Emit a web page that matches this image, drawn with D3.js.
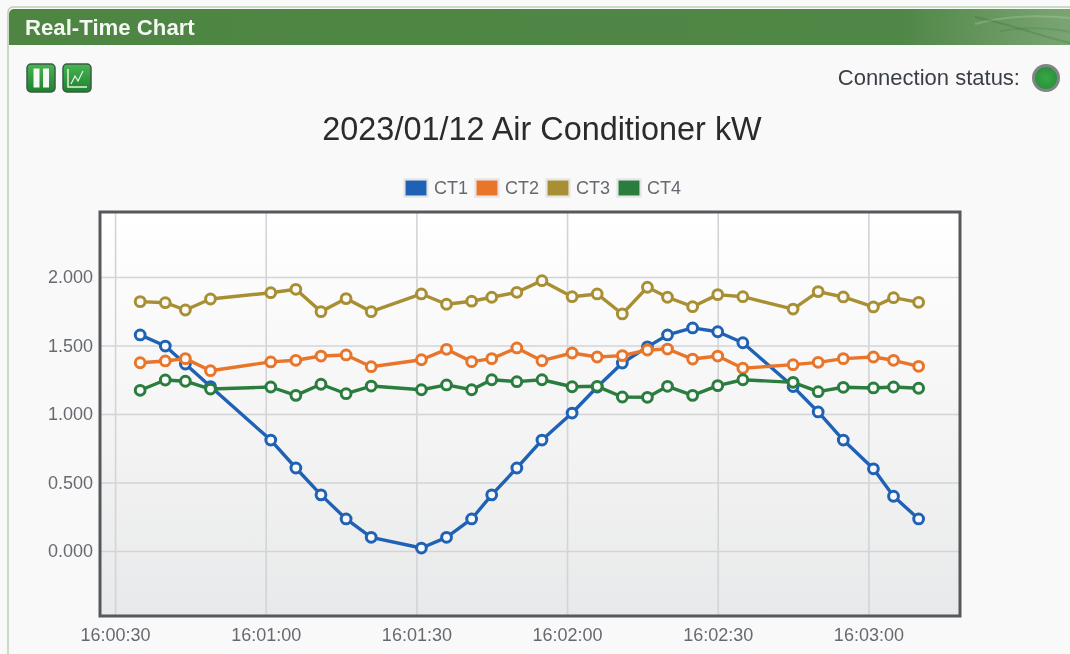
<!DOCTYPE html>
<html><head><meta charset="utf-8">
<script src="https://cdn.jsdelivr.net/npm/d3@7/dist/d3.min.js"></script>
<style>html,body{margin:0;padding:0;background:#f9f9f9;overflow:hidden}svg{display:block;filter:blur(0.45px)}text{font-family:"Liberation Sans",Arial,sans-serif}</style>
</head><body><svg id="c" width="1070" height="654"></svg>
<script>
const chartTitle = "2023/01/12 Air Conditioner kW";
const panelTitle = "Real-Time Chart";
const statusLabel = "Connection status:";
const times = ["16:00:35","16:00:40","16:00:44","16:00:49","16:01:01","16:01:06","16:01:11","16:01:16","16:01:21","16:01:31","16:01:36","16:01:41","16:01:45","16:01:50","16:01:55","16:02:01","16:02:06","16:02:11","16:02:16","16:02:20","16:02:25","16:02:30","16:02:35","16:02:45","16:02:50","16:02:55","16:03:01","16:03:05","16:03:10"];
const seriesNames = ["CT1","CT2","CT3","CT4"];
const seriesColors = ["#1f62b5","#e8752a","#a98f33","#2a7d3e"];
const ct1 = [1.577,1.496,1.365,1.200,0.810,0.606,0.410,0.234,0.100,0.022,0.100,0.234,0.410,0.606,0.810,1.007,1.197,1.372,1.490,1.577,1.628,1.600,1.520,1.200,1.015,0.810,0.600,0.400,0.234];
const ct2 = [1.374,1.387,1.404,1.316,1.380,1.392,1.423,1.431,1.345,1.396,1.472,1.382,1.404,1.482,1.389,1.445,1.416,1.426,1.467,1.474,1.401,1.423,1.334,1.360,1.377,1.404,1.416,1.392,1.348];
const ct3 = [1.820,1.812,1.759,1.839,1.885,1.910,1.747,1.842,1.747,1.876,1.801,1.823,1.852,1.888,1.973,1.856,1.876,1.730,1.925,1.852,1.783,1.871,1.856,1.766,1.893,1.854,1.781,1.849,1.815];
const ct4 = [1.173,1.248,1.239,1.182,1.197,1.136,1.217,1.148,1.204,1.177,1.212,1.177,1.250,1.236,1.250,1.199,1.202,1.124,1.122,1.202,1.136,1.207,1.250,1.231,1.163,1.195,1.190,1.197,1.188];
const seriesValues = [ct1,ct2,ct3,ct4];
const xTickLabels = ["16:00:30","16:01:00","16:01:30","16:02:00","16:02:30","16:03:00"];
const yTickValues = [0,0.5,1,1.5,2];
const xDomain = ["16:00:27","16:03:18"];
const yDomain = [-0.474,2.474];

const parse = d3.timeParse("%H:%M:%S");
const svg = d3.select("#c");
const defs = svg.append("defs");

const lg = (id,stops,x2=0,y2=1)=>{const g=defs.append("linearGradient").attr("id",id).attr("x1",0).attr("y1",0).attr("x2",x2).attr("y2",y2);
  stops.forEach(s=>g.append("stop").attr("offset",s[0]).attr("stop-color",s[1]));};
lg("plotBg",[[0,"#ffffff"],[0.45,"#f6f6f6"],[1,"#e8e9ea"]]);
lg("btn",[[0,"#48b552"],[1,"#1f8030"]]);
lg("head",[[0,"#4e8543"],[0.84,"#4f8746"],[0.93,"#68985f"],[1,"#7aa573"]],1,0);

// panel
svg.append("rect").attr("x",8).attr("y",7).attr("width",1080).attr("height",670).attr("rx",5).attr("fill","#f9f9f9").attr("stroke","#b9cfb4").attr("stroke-width",1.5);
svg.append("path").attr("d","M9 45V14a5 5 0 0 1 5-5H1070V45Z").attr("fill","url(#head)");
[["M975 24C1005 16 1040 15 1070 18",0.16],["M975 17C1010 24 1040 36 1070 43",-0.22],["M1000 31C1025 27 1050 28 1070 32",-0.15]].forEach(([d,o])=>
  svg.append("path").attr("d",d).attr("fill","none").attr("stroke",o>0?"#ffffff":"#2f5f2a").attr("stroke-opacity",Math.abs(o)).attr("stroke-width",2));
svg.append("text").attr("x",25).attr("y",35).attr("font-size",22.2).attr("font-weight","bold").attr("fill","#f4f7f2").text(panelTitle);

// buttons
svg.append("rect").attr("x",27).attr("y",64).attr("width",28).attr("height",28).attr("rx",4).attr("fill","url(#btn)").attr("stroke","#3d5a42").attr("stroke-width",1.5);
[33.5,43].forEach(x=>svg.append("rect").attr("x",x).attr("y",68.5).attr("width",6).attr("height",19).attr("fill","#f4f8f3"));
svg.append("rect").attr("x",63).attr("y",64).attr("width",28).attr("height",28).attr("rx",4).attr("fill","url(#btn)").attr("stroke","#3d5a42").attr("stroke-width",1.5);
svg.append("path").attr("d","M68 69V87H87").attr("fill","none").attr("stroke","#e6f2e4").attr("stroke-width",1.5);
svg.append("path").attr("d","M71 84L75 76L78 81L83 71").attr("fill","none").attr("stroke","#e6f2e4").attr("stroke-width",1.2);

// status
svg.append("text").attr("x",1020).attr("y",85).attr("text-anchor","end").attr("font-size",22).attr("fill","#3a3f47").text(statusLabel);
const rg=defs.append("radialGradient").attr("id","led");rg.append("stop").attr("offset",0).attr("stop-color","#35a845");rg.append("stop").attr("offset",1).attr("stop-color","#2b8f3c");
svg.append("circle").attr("cx",1046).attr("cy",78).attr("r",12.5).attr("fill","url(#led)").attr("stroke","#7f8683").attr("stroke-width",3);

// title
svg.append("text").attr("x",542).attr("y",140).attr("text-anchor","middle").attr("font-size",32.4).attr("fill","#2b2b2b").text(chartTitle);

// scales
const L=100,R=960,T=212,B=616;
const x=d3.scaleTime().domain(xDomain.map(parse)).range([100,958.8]);
const y=d3.scaleLinear().domain(yDomain).range([B,T]);

svg.append("rect").attr("x",L).attr("y",T).attr("width",R-L).attr("height",B-T).attr("fill","url(#plotBg)");

const fmt=d3.timeFormat("%H:%M:%S");
const xAxis=d3.axisBottom(x).tickValues(xTickLabels.map(parse)).tickFormat(fmt).tickSize(-(B-T)).tickPadding(7);
const yAxis=d3.axisLeft(y).tickValues(yTickValues).tickFormat(d3.format(".3f")).tickSize(-(R-L)).tickPadding(7);
const gx=svg.append("g").attr("transform",`translate(0,${B})`).call(xAxis);
const gy=svg.append("g").attr("transform",`translate(${L},0)`).call(yAxis);
[gx,gy].forEach(g=>{g.select(".domain").remove();
  g.selectAll(".tick line").attr("stroke","#d2d4d6").attr("stroke-width",1.6);
  g.selectAll(".tick text").attr("font-size",18).attr("font-family",'"Liberation Sans",Arial,sans-serif').attr("fill","#666a70");});
gx.selectAll(".tick text").attr("dy","1em");

// series
const line=d3.line().x((d,i)=>x(parse(times[i]))).y(d=>y(d));
const order=[0,1,2,3];
order.forEach(k=>{
  const c=seriesColors[k];
  const g=svg.append("g");
  g.append("path").datum(seriesValues[k]).attr("d",line).attr("fill","none").attr("stroke",c).attr("stroke-width",3.4).attr("stroke-linejoin","round");
  g.selectAll("circle").data(seriesValues[k]).join("circle")
    .attr("cx",(d,i)=>x(parse(times[i]))).attr("cy",d=>y(d)).attr("r",4.9)
    .attr("fill","#f9f9f9").attr("stroke",c).attr("stroke-width",3);
});

// plot frame
svg.append("rect").attr("x",L).attr("y",T).attr("width",R-L).attr("height",B-T).attr("fill","none").attr("stroke","#55585c").attr("stroke-width",3);

// legend
const lx=[405,476,547,618];
seriesNames.forEach((n,i)=>{
  svg.append("rect").attr("x",lx[i]-1).attr("y",179).attr("width",24).attr("height",18).attr("fill","#eeeeee").attr("stroke","#dddddd");
  svg.append("rect").attr("x",lx[i]+.5).attr("y",180.5).attr("width",21).attr("height",15).attr("fill",seriesColors[i]);
  svg.append("text").attr("x",lx[i]+29).attr("y",194).attr("font-size",18).attr("fill","#666a70").text(n);
});
</script></body></html>
